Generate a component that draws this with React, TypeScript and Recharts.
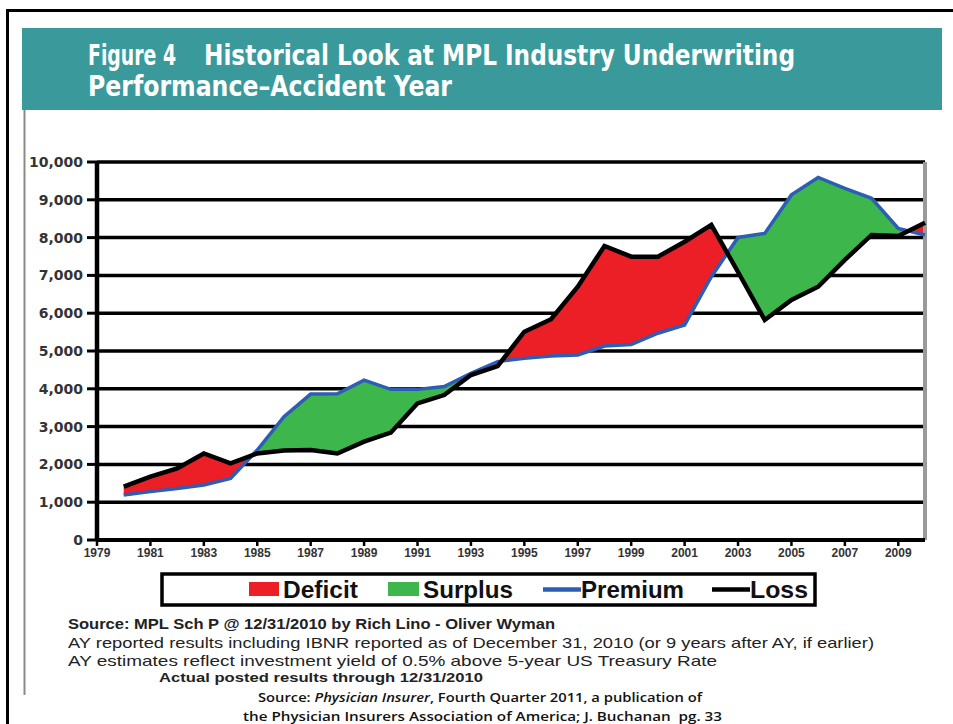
import { useEffect, useRef, useState } from 'react';
import { Area, CartesianGrid, ComposedChart, Line, ReferenceLine, XAxis, YAxis } from 'recharts';

// accident years and values ($ millions)
const YEARS = [1980, 1981, 1982, 1983, 1984, 1985, 1986, 1987, 1988, 1989, 1990, 1991, 1992, 1993, 1994, 1995,
  1996, 1997, 1998, 1999, 2000, 2001, 2002, 2003, 2004, 2005, 2006, 2007, 2008, 2009, 2010];
const PREMIUM = [1190, 1280, 1365, 1455, 1630, 2380, 3260, 3860, 3870, 4230, 3985, 3985, 4060, 4410, 4720, 4805,
  4870, 4895, 5130, 5170, 5470, 5690, 6965, 8005, 8110, 9130, 9590, 9300, 9040, 8245, 8070];
const LOSS = [1410, 1675, 1895, 2290, 2030, 2290, 2365, 2380, 2290, 2600, 2840, 3615, 3835, 4365, 4600, 5510,
  5840, 6700, 7780, 7495, 7495, 7890, 8335, 7090, 5820, 6350, 6700, 7410, 8070, 8040, 8395];

const X_TICKS = [1979, 1981, 1983, 1985, 1987, 1989, 1991, 1993, 1995, 1997, 1999, 2001, 2003, 2005, 2007, 2009];
const Y_TICKS = [0, 1000, 2000, 3000, 4000, 5000, 6000, 7000, 8000, 9000, 10000];

const RED = '#ec1f26';
const GREEN = '#3db64b';
const BLUE = '#2c5eb5';
const TEAL = '#3a9a9b';

const LEGEND = [
  { name: 'Deficit', kind: 'box', color: RED },
  { name: 'Surplus', kind: 'box', color: GREEN },
  { name: 'Premium', kind: 'line', color: BLUE },
  { name: 'Loss', kind: 'line', color: '#000' },
];

const data = YEARS.map((year, i) => ({
  year,
  premium: PREMIUM[i],
  loss: LOSS[i],
  band: [PREMIUM[i], LOSS[i]],
}));

const fmt = (v: number) => v.toLocaleString('en-US');

export default function App() {
  const boxRef = useRef<HTMLDivElement>(null);
  const [clipD, setClipD] = useState<string | null>(null);

  // the red band is clipped to the region above the premium line, taken from the chart's own area path
  useEffect(() => {
    let raf = 0;
    const read = () => {
      const root = boxRef.current;
      const p = root?.querySelector('.prem-above path.recharts-area-area') ?? root?.querySelector('.prem-above path');
      const d = p?.getAttribute('d');
      if (d) setClipD((prev) => (prev === d ? prev : d));
      else raf = requestAnimationFrame(read);
    };
    read();
    return () => cancelAnimationFrame(raf);
  }, []);

  const legendPos = [
    { sx: 249, tx: 283, tl: 75 },
    { sx: 388, tx: 423, tl: 90 },
    { sx: 543, tx: 581, tl: 103 },
    { sx: 712, tx: 750, tl: 58 },
  ];

  return (
    <div ref={boxRef} style={{ position: 'absolute', left: 0, top: 0, width: 953, height: 724, overflow: 'hidden', background: '#fff' }}>
      <style>{clipD ? '.deficit .recharts-area-area { clip-path: url(#above-premium); }' : ''}</style>
      <svg width={953} height={724} style={{ position: 'absolute', left: 0, top: 0 }}>
        <defs>
          <clipPath id="above-premium">{clipD && <path d={clipD} />}</clipPath>
        </defs>
        <path d="M7.5 724 V10.5 H953" stroke="#000" strokeWidth={3} fill="none" />
        <rect x={22} y={28} width={920} height={82} fill={TEAL} />
        <g fill="#fff" fontFamily="'Liberation Sans Narrow', 'DejaVu Sans Condensed', sans-serif" fontWeight="bold" fontSize={29}>
          <text x={88} y={65} textLength={88} lengthAdjust="spacingAndGlyphs">Figure 4</text>
          <text x={204} y={65} textLength={591} lengthAdjust="spacingAndGlyphs">Historical Look at MPL Industry Underwriting</text>
          <text x={88} y={96} textLength={364} lengthAdjust="spacingAndGlyphs">Performance–Accident Year</text>
        </g>
        <line x1={24.5} y1={110} x2={24.5} y2={695} stroke="#8a8a8a" strokeWidth={2} />

        {/* legend */}
        <rect x={162} y={574} width={653} height={31} fill="#fff" stroke="#000" strokeWidth={3.5} />
        {LEGEND.map((it, i) => {
          const p = legendPos[i];
          return (
            <g key={it.name}>
              {it.kind === 'box'
                ? <rect x={p.sx} y={582} width={p.tx - p.sx - 4} height={14} fill={it.color} />
                : <line x1={p.sx} y1={589.5} x2={p.tx} y2={589.5} stroke={it.color} strokeWidth={4.5} />}
              <text x={p.tx} y={598} fontFamily="'Liberation Sans', Arial, sans-serif" fontWeight="bold" fontSize={24}
                fill="#111" textLength={p.tl} lengthAdjust="spacingAndGlyphs">{it.name}</text>
            </g>
          );
        })}

        {/* notes */}
        <g fontFamily="'Liberation Sans', Arial, sans-serif" fill="#222">
          <text x={68} y={628.5} fontWeight="bold" fontSize={15} textLength={487} lengthAdjust="spacingAndGlyphs">
            Source: MPL Sch P @ 12/31/2010 by Rich Lino - Oliver Wyman</text>
          <text x={68} y={648} fontSize={15} textLength={806} lengthAdjust="spacingAndGlyphs">
            AY reported results including IBNR reported as of December 31, 2010 (or 9 years after AY, if earlier)</text>
          <text x={68} y={666} fontSize={15} textLength={649} lengthAdjust="spacingAndGlyphs">
            AY estimates reflect investment yield of 0.5% above 5-year US Treasury Rate</text>
          <text x={159} y={682} fontWeight="bold" fontSize={13} textLength={324} lengthAdjust="spacingAndGlyphs">
            Actual posted results through 12/31/2010</text>
        </g>
        <g fontFamily="'Open Sans', 'Noto Sans', sans-serif" fontWeight={600} fontSize={13} fill="#111">
          <text x={258} y={702} textLength={444} lengthAdjust="spacingAndGlyphs">
            Source: <tspan fontStyle="italic">Physician Insurer</tspan>, Fourth Quarter 2011, a publication of</text>
          <text x={243} y={721} textLength={479} lengthAdjust="spacingAndGlyphs" style={{ whiteSpace: 'pre' }}>
            {'the Physician Insurers Association of America; J. Buchanan  pg. 33'}</text>
        </g>
      </svg>

      <div style={{ position: 'absolute', left: 0, top: 0 }}>
        <ComposedChart width={953} height={600} data={data} margin={{ top: 162, right: 28, bottom: 30, left: 0 }}>
          <CartesianGrid vertical={false} stroke="#000" strokeWidth={3.5} />
          <XAxis dataKey="year" type="number" domain={[1979, 2010]} ticks={X_TICKS} interval={0} height={30}
            tick={{ fontSize: 12, fontWeight: 'bold', fill: '#333', fontFamily: "'Liberation Sans', Arial, sans-serif" }}
            tickSize={6} tickLine={{ stroke: '#000', strokeWidth: 2.5 }} axisLine={{ stroke: '#000', strokeWidth: 4 }} />
          <YAxis domain={[0, 10000]} ticks={Y_TICKS} interval={0} width={97} tickFormatter={fmt}
            tick={{ fontSize: 14, fontWeight: 'bold', fill: '#333', fontFamily: "'DejaVu Sans', sans-serif" }}
            tickSize={10} tickMargin={4} tickLine={{ stroke: '#000', strokeWidth: 3 }} axisLine={{ stroke: '#000', strokeWidth: 4.5 }} />
          <ReferenceLine x={2010} stroke="#9a9a9a" strokeWidth={4} />
          <Area dataKey="band" type="linear" fill={GREEN} fillOpacity={1} stroke="none" isAnimationActive={false} />
          {clipD && (
            <Area className="deficit" dataKey="band" type="linear" fill={RED} fillOpacity={1} stroke="none" isAnimationActive={false} />
          )}
          <Area className="prem-above" dataKey="premium" type="linear" baseValue={10000} fill="none" stroke="none"
            isAnimationActive={false} />
          <Line dataKey="premium" type="linear" stroke={BLUE} strokeWidth={3.5} dot={false} activeDot={false} isAnimationActive={false} />
          <Line dataKey="loss" type="linear" stroke="#000" strokeWidth={4.5} dot={false} activeDot={false} isAnimationActive={false} />
        </ComposedChart>
      </div>
    </div>
  );
}
